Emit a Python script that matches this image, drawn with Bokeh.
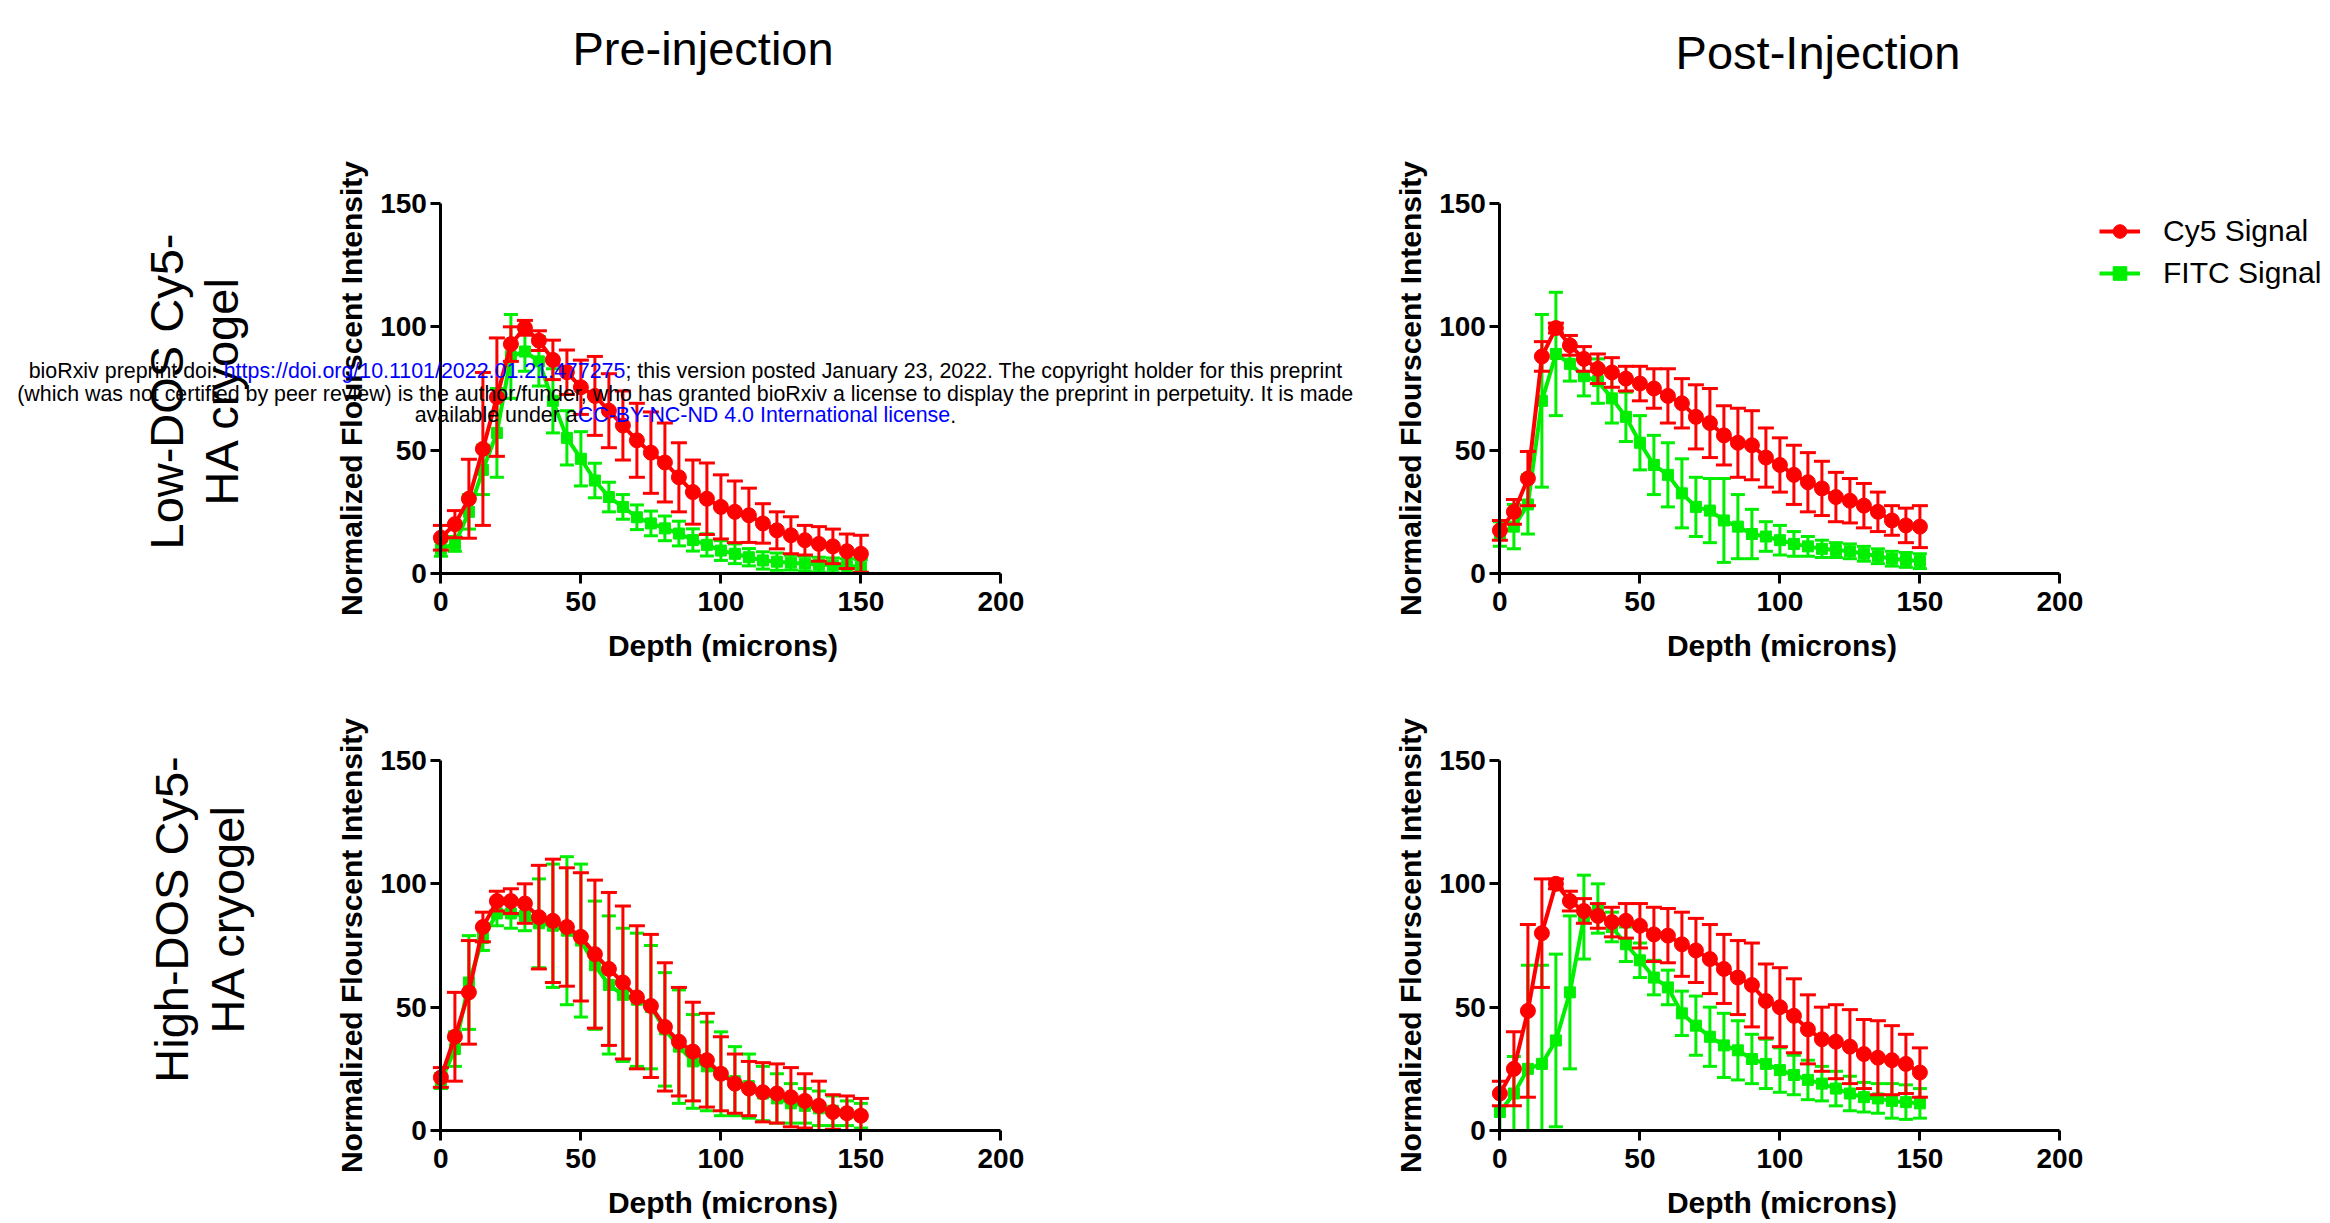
import glob
import math
from bokeh.plotting import figure
from bokeh.layouts import column, row
from bokeh.models import Range1d, FixedTicker, Label, Legend, LegendItem, ColumnDataSource
from bokeh.embed import file_html
from bokeh.resources import INLINE

# ---------------- data ----------------
depth = [0, 5, 10, 15, 20, 25, 30, 35, 40, 45, 50, 55, 60, 65, 70, 75, 80, 85, 90, 95,
         100, 105, 110, 115, 120, 125, 130, 135, 140, 145, 150]
x_ticks = [0, 50, 100, 150, 200]
y_ticks = [0, 50, 100, 150]
series_names = ["Cy5 Signal", "FITC Signal"]
column_titles = ["Pre-injection", "Post-Injection"]
row_titles = [("Low-DOS Cy5-", "HA cryogel"), ("High-DOS Cy5-", "HA cryogel")]
x_title = "Depth (microns)"
y_title = "Normalized Flourscent Intensity"

# Low-DOS, pre-injection
pre_low_cy5 = [14.5, 20, 30.3, 50.5, 71.5, 93, 99.6, 94.4, 86.6, 81.6, 75.5, 72, 66, 60, 54, 49, 45, 39, 33, 30.3,
               27, 25, 23.6, 20.3, 17.5, 15.5, 13.5, 12, 11, 9, 8]
pre_low_cy5_sd = [5, 5.5, 16, 31, 24, 7, 3, 4, 8, 9, 11, 16, 15, 14, 15, 16.5, 16, 14, 13, 14.5,
                  13, 12.5, 11, 8, 7.5, 7.5, 6, 7, 7, 7, 7.5]
pre_low_fitc = [10, 12, 25, 42, 57, 88, 90, 86, 70, 55, 46.5, 37.7, 31, 27, 22.8, 20.3, 18.3, 16.2, 13.6, 11.6,
                9.3, 8, 6.6, 5.3, 4.8, 4.4, 4, 3.6, 3.3, 3, 2.7]
pre_low_fitc_sd = [3, 3, 7, 10, 18, 17, 8, 10, 13, 11, 11, 7, 6, 5, 5, 5, 5, 5, 4.5, 4.5,
                   4, 4, 3.5, 3.5, 3.5, 3, 3, 3, 3, 3, 3]

# Low-DOS, post-injection
post_low_cy5 = [17.5, 25, 38.5, 88, 99.5, 92.5, 87, 83, 81.5, 79, 77, 75, 72, 69, 63.5, 61, 56, 53, 52, 47,
                44, 40, 37, 34.5, 31, 29.5, 27.5, 25, 21.5, 19.5, 19]
post_low_cy5_sd = [4, 5, 11, 6, 2, 4, 5, 6, 6, 5, 7, 8, 11, 10, 13, 14, 12, 14, 14, 12,
                   11, 12, 12, 11, 10, 9, 9, 8, 6, 7, 8.5]
post_low_fitc = [16, 19, 28, 70, 89, 85, 80, 78, 71, 63.5, 53, 44, 40, 32.5, 27, 25.5, 21.5, 19, 16, 15,
                 13.5, 12, 11, 10, 9.5, 9, 8, 7, 6, 5.5, 5]
post_low_fitc_sd = [5, 9, 12, 35, 25, 7, 8, 9, 10, 10, 11, 12, 13, 14, 12, 13, 17, 13, 10, 6,
                    6, 5, 4, 3.5, 3, 3, 3, 3, 3, 3, 3]

# High-DOS, pre-injection
pre_high_cy5 = [21.5, 38, 56, 82.5, 93, 93, 92, 86.5, 85, 82.5, 78.5, 71.5, 65.5, 60, 54, 50.5, 42, 36, 32, 28.5,
                23, 19, 17, 15.5, 15, 13.5, 12, 10, 7.5, 7, 6]
pre_high_cy5_sd = [4, 18, 21, 6, 4, 5, 8, 21, 25, 24, 26, 30, 31, 31, 29, 29, 26, 22, 20, 19,
                   15, 12, 11, 12, 12, 12, 11, 10, 7, 7, 7]
pre_high_fitc = [20, 33, 60, 78, 88, 88, 87, 84, 83, 81, 77, 67, 59, 55, 53, 50, 41, 34, 28, 26,
                 23, 20, 18, 15, 13, 11, 10, 9, 8, 7, 6]
pre_high_fitc_sd = [3, 7, 19, 5, 5, 6, 6, 18, 25, 30, 31, 26, 28, 27, 27, 25, 23, 23, 19, 18,
                    17, 14, 13, 11, 10, 8, 7, 7, 6, 5, 5]

# High-DOS, post-injection
post_high_cy5 = [15, 25, 48.5, 80, 100, 93, 89, 87, 84.5, 85, 83, 79.5, 79, 75.5, 73, 69.5, 65.5, 62, 59, 52.5,
                 50, 46.5, 41, 37, 36, 34, 31, 29.5, 28.5, 27, 23.5]
post_high_cy5_sd = [5, 15, 35, 22, 2, 4, 5, 5, 6, 7, 9, 11, 11, 13, 13, 14, 14, 15, 17, 15,
                    16, 15, 14, 13, 15, 15, 14, 15, 14, 12, 10]
post_high_fitc = [7.5, 15, 25, 27, 36.5, 56, 86.5, 90, 82.5, 75.5, 69, 62, 58, 47.5, 42.5, 38, 34.5, 32.5, 29, 27,
                  24.5, 22.5, 20.5, 19, 17, 15, 13.5, 13, 12, 11.5, 11]
post_high_fitc_sd = [8, 15, 42, 40, 35, 31, 17, 10, 6, 7, 7, 7, 7, 9, 12, 12, 13, 12, 10, 10,
                     9, 8, 8, 7, 7, 7, 6, 6, 7, 7, 6]

# ---------------- style / layout ----------------
RED = "#FF0000"
GREEN = "#00EE00"
BLUE = "#0000FF"
FONT = "Liberation Sans"

XS = 2.8        # px per depth unit
YS = 370 / 150  # px per intensity unit
LEFT_W, RIGHT_W = 1378, 952
TOP_H, BOT_H = 688, 535
BASE_K = 0.3465  # baseline-to-anchor offset (fraction of font size)


def make_panel(page_left, page_top, width, height, ox, oy):
    """ox, oy: page position of the data origin (0, 0)."""
    xr = Range1d((page_left - ox) / XS, (page_left + width - ox) / XS)
    yr = Range1d((oy - (page_top + height)) / YS, (oy - page_top) / YS)
    p = figure(width=width, height=height, x_range=xr, y_range=yr, title=None,
               output_backend="svg", toolbar_location=None, min_border=0)
    p.outline_line_color = None
    p.background_fill_color = "white"
    p.border_fill_color = "white"
    p.xgrid.visible = False
    p.ygrid.visible = False
    for ax in (p.xaxis[0], p.yaxis[0]):
        ax.fixed_location = 0
        ax.axis_line_width = 3
        ax.axis_line_color = "black"
        ax.major_tick_line_width = 3
        ax.major_tick_line_color = "black"
        ax.major_tick_out = 10
        ax.major_tick_in = 0
        ax.minor_tick_line_color = None
        ax.major_label_text_font = FONT
        ax.major_label_text_font_size = "28px"
        ax.major_label_text_font_style = "bold"
        ax.major_label_text_color = "black"
    p.xaxis.ticker = FixedTicker(ticks=x_ticks)
    p.yaxis.ticker = FixedTicker(ticks=y_ticks)
    p.xaxis.bounds = (x_ticks[0], x_ticks[-1])
    p.yaxis.bounds = (y_ticks[0], y_ticks[-1])
    p.xaxis.major_label_standoff = 8
    p.yaxis.major_label_standoff = 4

    def to_data(px, py):
        return (px - ox) / XS, (oy - py) / YS
    return p, to_data


def draw_series(p, mean, sd, color, marker, size, cap):
    lo = [max(m - s, 0) for m, s in zip(mean, sd)]
    hi = [m + s for m, s in zip(mean, sd)]
    src = ColumnDataSource(dict(x=depth, y=mean, lo=lo, hi=hi))
    p.segment(x0="x", y0="lo", x1="x", y1="hi", source=src, line_color=color, line_width=3)
    p.scatter("x", "lo", source=src, marker="dash", size=cap, line_color=color, line_width=3)
    p.scatter("x", "hi", source=src, marker="dash", size=cap, line_color=color, line_width=3)
    ln = p.line("x", "y", source=src, line_color=color, line_width=4)
    sc = p.scatter("x", "y", source=src, marker=marker, size=size, fill_color=color, line_color=color)
    return ln, sc


def add_text(p, to_data, px, py, text, size, style="normal", color="black", align="center", angle=0.0):
    """(px, py) is the wanted baseline point in page pixels."""
    if angle == 0.0:
        py = py - BASE_K * size
    else:
        px = px - BASE_K * size
    x, y = to_data(px, py)
    p.add_layout(Label(x=x, y=y, text=text, text_font=FONT, text_font_size=f"{size}px",
                       text_font_style=style, text_color=color, text_align=align,
                       text_baseline="alphabetic", angle=angle))


tl, tl_d = make_panel(0, 0, LEFT_W, TOP_H, 440.4, 573)
tr, tr_d = make_panel(LEFT_W, 0, RIGHT_W, TOP_H, 1499.4, 573)
bl, bl_d = make_panel(0, TOP_H, LEFT_W, BOT_H, 440.4, 1130)
br, br_d = make_panel(LEFT_W, TOP_H, RIGHT_W, BOT_H, 1499.4, 1130)

panels = [
    (tl, tl_d, 440.4, 573, pre_low_cy5, pre_low_cy5_sd, pre_low_fitc, pre_low_fitc_sd),
    (tr, tr_d, 1499.4, 573, post_low_cy5, post_low_cy5_sd, post_low_fitc, post_low_fitc_sd),
    (bl, bl_d, 440.4, 1130, pre_high_cy5, pre_high_cy5_sd, pre_high_fitc, pre_high_fitc_sd),
    (br, br_d, 1499.4, 1130, post_high_cy5, post_high_cy5_sd, post_high_fitc, post_high_fitc_sd),
]
legend_refs = None
for p, d, ox, oy, cm, cs, fm, fs in panels:
    g = draw_series(p, fm, fs, GREEN, "square", 11, 14)
    r = draw_series(p, cm, cs, RED, "circle", 15, 16)
    if p is tr:
        legend_refs = (r, g)
    # axis titles
    add_text(p, d, ox + 282, oy + 82, x_title, 30, style="bold")
    add_text(p, d, ox - 79.5, oy - 185, y_title, 30, style="bold", angle=math.pi / 2)

# legend
r, g = legend_refs
legend = Legend(items=[LegendItem(label=series_names[0], renderers=list(r)),
                       LegendItem(label=series_names[1], renderers=list(g))],
                location=(2099 - LEFT_W, TOP_H - 290), orientation="vertical",
                border_line_color=None, background_fill_alpha=0, padding=0, margin=0,
                spacing=8, glyph_width=41, glyph_height=34, label_height=34, label_standoff=23,
                label_text_font=FONT, label_text_font_size="30px", label_text_color="black")
tr.add_layout(legend)

# column titles
add_text(tl, tl_d, 702.5, 64, column_titles[0], 47)
add_text(tr, tr_d, 1817.5, 68, column_titles[1], 47)

# row titles
add_text(tl, tl_d, 182, 391, row_titles[0][0], 47, angle=math.pi / 2)
add_text(tl, tl_d, 237, 390, row_titles[0][1], 47, angle=math.pi / 2)
add_text(bl, bl_d, 187, 919, row_titles[1][0], 47, angle=math.pi / 2)
add_text(bl, bl_d, 243, 918, row_titles[1][1], 47, angle=math.pi / 2)

# bioRxiv watermark
WM_SIZE = 21.4
wm_lines = [
    [("bioRxiv preprint doi: ", "black"), ("https://doi.org/10.1101/2022.01.21.477275", BLUE),
     ("; this version posted January 23, 2022. The copyright holder for this preprint", "black")],
    [("(which was not certified by peer review) is the author/funder, who has granted bioRxiv a license "
      "to display the preprint in perpetuity. It is made", "black")],
    [("available under a", "black"), ("CC-BY-NC-ND 4.0 International license", BLUE), (".", "black")],
]
wm_baselines = [378, 401, 422]
wm_center = 685

measure = None
try:
    from PIL import ImageFont
    paths = glob.glob("/usr/share/fonts/**/LiberationSans-Regular.ttf", recursive=True)
    if paths:
        _f = ImageFont.truetype(paths[0], 100)
        measure = lambda s: _f.getlength(s) * WM_SIZE / 100
except Exception:
    measure = None
if measure is None:
    measure = lambda s: 0.47 * WM_SIZE * len(s)

for segs, base in zip(wm_lines, wm_baselines):
    widths = [measure(t) for t, _ in segs]
    xpos = wm_center - sum(widths) / 2
    for (t, c), w in zip(segs, widths):
        add_text(tl, tl_d, xpos, base, t, WM_SIZE, color=c, align="left")
        xpos += w

layout = column(row(tl, tr), row(bl, br))
open("out.html", "w").write(file_html(layout, INLINE))
